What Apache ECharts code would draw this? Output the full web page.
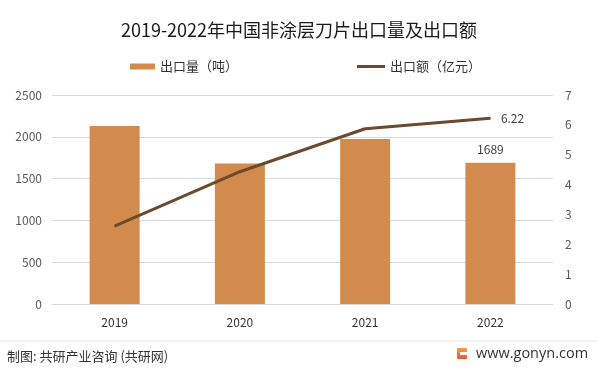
<!DOCTYPE html>
<html><head><meta charset="utf-8">
<script src="https://cdn.jsdelivr.net/npm/echarts@6/dist/echarts.min.js"></script>
<style>html,body{margin:0;padding:0;background:#fff}#c{width:598px;height:373px}</style>
</head><body><div id="c"></div>
<script>
const categories = ['2019','2020','2021','2022'];
const volume = [2129, 1680, 1974, 1689];
const amount = [2.61, 4.43, 5.87, 6.22];
const leftTicks = [0, 500, 1000, 1500, 2000, 2500];
const rightTicks = [0,1,2,3,4,5,6,7];

const chart = echarts.init(document.getElementById('c'));
const ff = '"Noto Sans CJK SC", "Microsoft YaHei", sans-serif';
const last = categories.length - 1;
chart.setOption({
  animation:false,
  textStyle:{fontFamily:ff},
  title:{text:'2019-2022年中国非涂层刀片出口量及出口额', left:'center', top:16,
    textStyle:{fontSize:18, fontWeight:'normal', color:'#1a1a1a', fontFamily:ff}},
  legend:[
    {top:55, left:125, itemWidth:25, itemHeight:6, itemGap:4,
     textStyle:{fontSize:13,color:'#333'}, data:[{name:'出口量（吨）', icon:'rect'}]},
    {top:55, left:352, itemWidth:28, itemHeight:3, itemGap:3,
     textStyle:{fontSize:13,color:'#333'}, data:[{name:'出口额（亿元）', icon:'rect'}]}
  ],
  grid:{left:52, right:45, top:95, bottom:69},
  xAxis:{type:'category', data:categories,
    axisLine:{lineStyle:{color:'#d9d9d9'}}, axisTick:{show:false},
    axisLabel:{color:'#333', fontSize:12, margin:12}},
  yAxis:[
    {type:'value', min:0, max:2500, interval:500,
     axisLine:{show:false}, axisTick:{show:false},
     splitLine:{lineStyle:{color:'#d9d9d9'}},
     axisLabel:{color:'#595959', fontSize:12, margin:10, formatter:v=>String(v)}},
    {type:'value', min:0, max:7, interval:1,
     axisLine:{show:false}, axisTick:{show:false}, splitLine:{show:false},
     axisLabel:{color:'#595959', fontSize:12, margin:12, formatter:v=>String(v)}}
  ],
  series:[
    {name:'出口量（吨）', type:'bar', data:volume.map((v,i)=>({value:v,
      label:{show:i===last, position:'top', color:'#404040', fontSize:12, distance:7}})),
     barWidth:50, itemStyle:{color:'#D38B4D'}},
    {name:'出口额（亿元）', type:'line', yAxisIndex:1, data:amount.map((v,i)=>({value:v,
      label:{show:i===last, position:'right', distance:10, color:'#404040', fontSize:12}})),
     symbol:'circle', symbolSize:1, showSymbol:true,
     lineStyle:{color:'#6B4A2F', width:3}, itemStyle:{color:'#6B4A2F'}}
  ],
  graphic:[
    {type:'line', shape:{x1:0,y1:341,x2:598,y2:341}, style:{stroke:'#e6e6e6', lineWidth:1}},
    {type:'text', left:7, top:350, style:{text:'制图: 共研产业咨询 (共研网)', fontSize:13, fill:'#333', fontFamily:ff}},
    {type:'rect', shape:{x:457,y:348,width:10,height:11,r:1},
     style:{fill:new echarts.graphic.LinearGradient(0,0,0,1,[{offset:0,color:'#F5A04A'},{offset:1,color:'#E8562E'}])}},
    {type:'rect', shape:{x:460,y:352,width:7,height:3}, style:{fill:'#fff'}},
    {type:'text', left:476, top:346, style:{text:'www.gonyn.com', fontSize:14.5, fill:'#333', fontFamily:'"Open Sans", sans-serif'}}
  ]
});
</script></body></html>
